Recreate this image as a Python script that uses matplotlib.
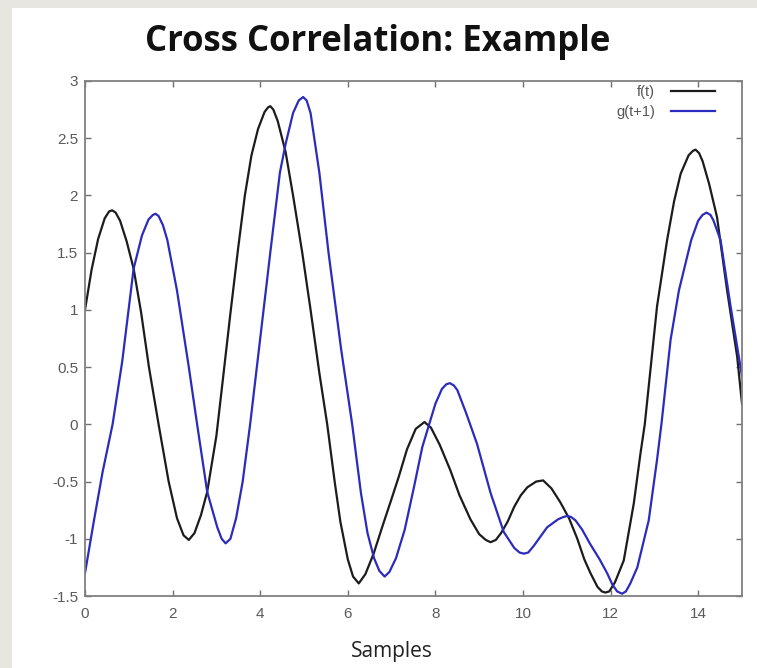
import matplotlib
matplotlib.use("Agg")
import matplotlib.pyplot as plt
from matplotlib.patches import Rectangle

# f(t)
f_t = [0, 0.15, 0.3, 0.45, 0.55, 0.62, 0.7, 0.8, 0.95, 1.11, 1.28, 1.46, 1.68, 1.91, 2.1, 2.25, 2.37,
       2.5, 2.65, 2.79, 3.0, 3.15, 3.32, 3.5, 3.65, 3.8, 3.95, 4.1, 4.18, 4.23, 4.3, 4.4, 4.58, 4.75,
       4.96, 5.15, 5.35, 5.53, 5.7, 5.83, 6.0, 6.12, 6.25, 6.4, 6.59, 6.8, 7.0, 7.17, 7.35,
       7.55, 7.75, 7.9, 8.1, 8.34, 8.55, 8.8, 9.0, 9.15, 9.26, 9.38, 9.5, 9.65, 9.8, 9.95, 10.1, 10.3,
       10.46, 10.65, 10.85, 11.05, 11.24, 11.4, 11.54, 11.7, 11.8, 11.88, 11.97, 12.1, 12.3, 12.53, 12.68,
       12.78, 13.06, 13.29, 13.45, 13.6, 13.78, 13.88, 13.94, 14.02, 14.1, 14.25, 14.43, 14.66, 14.89, 15.0]
f_y = [1.00, 1.35, 1.62, 1.80, 1.86, 1.87, 1.85, 1.78, 1.60, 1.36, 0.98, 0.50, 0.0, -0.50, -0.82, -0.97, -1.01,
       -0.95, -0.79, -0.59, -0.10, 0.40, 0.97, 1.55, 2.00, 2.35, 2.58, 2.73, 2.77, 2.78, 2.75, 2.65, 2.38, 2.00,
       1.50, 1.00, 0.45, 0.0, -0.50, -0.85, -1.18, -1.33, -1.39, -1.31, -1.13, -0.88, -0.65, -0.45, -0.22,
       -0.04, 0.02, -0.03, -0.18, -0.40, -0.62, -0.83, -0.96, -1.01, -1.03, -1.01, -0.95, -0.85, -0.72, -0.62, -0.55, -0.50,
       -0.49, -0.56, -0.68, -0.82, -1.00, -1.18, -1.30, -1.42, -1.46, -1.47, -1.46, -1.38, -1.19, -0.69, -0.26,
       0.0, 1.03, 1.61, 1.95, 2.19, 2.35, 2.39, 2.40, 2.37, 2.30, 2.10, 1.81, 1.17, 0.59, 0.18]

# g(t+1)
g_t = [0, 0.2, 0.4, 0.63, 0.85, 1.11, 1.3, 1.45, 1.55, 1.61, 1.68, 1.78, 1.88, 2.1, 2.37, 2.56, 2.79,
       3.02, 3.12, 3.21, 3.32, 3.45, 3.6, 3.77, 4.0, 4.23, 4.45, 4.58, 4.75, 4.88, 4.98, 5.06, 5.15, 5.35, 5.56, 5.85,
       6.1, 6.3, 6.45, 6.6, 6.72, 6.84, 6.95, 7.1, 7.3, 7.51, 7.7, 7.85, 8.0, 8.15, 8.25, 8.33, 8.42, 8.5,
       8.7, 8.95, 9.26, 9.56, 9.8, 9.92, 10.02, 10.12, 10.25, 10.55, 10.8, 10.92, 11.01, 11.1, 11.2, 11.35, 11.54, 11.75,
       11.92, 12.04, 12.15, 12.26, 12.35, 12.45, 12.61, 12.87, 13.06, 13.16, 13.37, 13.56, 13.84, 14.0, 14.1, 14.19,
       14.28, 14.35, 14.51, 14.74, 15.0]
g_y = [-1.30, -0.85, -0.42, 0.0, 0.55, 1.36, 1.65, 1.79, 1.83, 1.84, 1.82, 1.74, 1.61, 1.17, 0.50, 0.0, -0.59,
       -0.90, -1.00, -1.04, -1.00, -0.82, -0.50, 0.0, 0.75, 1.50, 2.20, 2.45, 2.72, 2.83, 2.86, 2.83, 2.72, 2.20, 1.50, 0.65,
       0.0, -0.60, -0.95, -1.17, -1.28, -1.33, -1.29, -1.17, -0.92, -0.55, -0.20, -0.01, 0.18, 0.31, 0.35, 0.36, 0.34, 0.30,
       0.10, -0.17, -0.60, -0.94, -1.08, -1.12, -1.13, -1.12, -1.06, -0.90, -0.83, -0.81, -0.80, -0.81, -0.84, -0.92, -1.05, -1.18,
       -1.30, -1.40, -1.46, -1.48, -1.46, -1.39, -1.25, -0.84, -0.31, 0.0, 0.74, 1.17, 1.61, 1.78, 1.83, 1.85,
       1.83, 1.78, 1.61, 1.03, 0.42]

x_ticks = [0, 2, 4, 6, 8, 10, 12, 14]
y_ticks = [-1.5, -1, -0.5, 0, 0.5, 1, 1.5, 2, 2.5, 3]
y_labels = ["-1.5", "-1", "-0.5", "0", "0.5", "1", "1.5", "2", "2.5", "3"]

fig = plt.figure(figsize=(7.57, 6.68), dpi=100)
fig.patch.set_facecolor("#e8e6e1")
# white slide area
fig.add_artist(Rectangle((12 / 757, 0), 1, 1 - 8 / 668, transform=fig.transFigure,
                         facecolor="white", edgecolor="none", zorder=0))

ax = fig.add_axes([85 / 757, 1 - 596 / 668, 657 / 757, 515 / 668])
ax.plot(f_t, f_y, color="#1c1c1c", lw=1.6, label="f(t)")
ax.plot(g_t, g_y, color="#2b2bbd", lw=1.6, label="g(t+1)")

ax.set_xlim(0, 15)
ax.set_ylim(-1.5, 3)
ax.set_xticks(x_ticks)
ax.set_yticks(y_ticks)
ax.set_yticklabels(y_labels)
ax.tick_params(direction="in", length=4, width=1, color="#707070",
               top=True, right=True, labelsize=11, labelcolor="#5a5a5a")
ax.tick_params(axis="x", pad=8)
ax.tick_params(axis="y", pad=5)
for lab in ax.get_xticklabels() + ax.get_yticklabels():
    lab.set_family("Liberation Sans")
for s in ax.spines.values():
    s.set_color("#808080")
    s.set_linewidth(1.3)

leg = ax.legend(loc="upper right", bbox_to_anchor=(1 - 27 / 657, 1 - 4 / 515), frameon=False,
                markerfirst=False, handlelength=3.0, handletextpad=1.1,
                borderaxespad=0, borderpad=0, labelspacing=0.4,
                prop={"family": "Liberation Sans", "size": 10.5})
for t in leg.get_texts():
    t.set_color("#555555")

fig.text(378 / 757, 1 - 42 / 668, "Cross Correlation: Example", ha="center", va="center",
         fontsize=25, fontweight="bold", family="Open Sans", color="#111111")
fig.text(392 / 757, 1 - 652 / 668, "Samples", ha="center", va="center",
         fontsize=15, family="Open Sans", color="#222222")

fig.savefig("out.png", dpi=100)
